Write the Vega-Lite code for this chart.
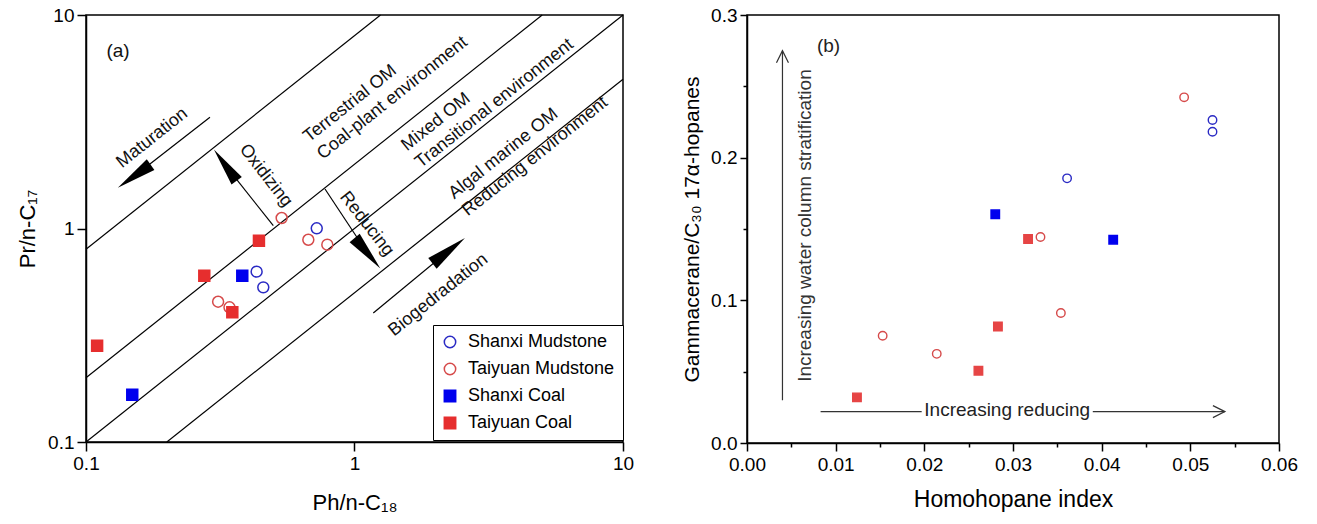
{
  "$schema": "https://vega.github.io/schema/vega-lite/v6.json",
  "background": "white",
  "padding": {"left": 15, "top": 5, "right": 0, "bottom": 0},
  "bounds": "flush",
  "spacing": 124,
  "config": {
    "font": "Liberation Sans",
    "view": {"stroke": "#000", "strokeWidth": 1.5},
    "axis": {"grid": false, "domainColor": "#000", "domainWidth": 1.5, "tickColor": "#000", "tickWidth": 1.5, "labelColor": "#000", "titleColor": "#000", "labelFont": "Liberation Sans", "titleFont": "Liberation Sans", "titleFontWeight": "normal", "labelFlush": false, "labelOverlap": false},
    "legend": {"labelFont": "Liberation Sans", "labelFontSize": 18, "labelColor": "#000", "symbolSize": 130, "symbolStrokeWidth": 1.5, "rowPadding": 9, "padding": 8, "strokeColor": "#000", "fillColor": "#fff", "labelOffset": 9},
    "text": {"font": "Liberation Sans", "color": "#111"}
  },
  "resolve": {"scale": {"fill": "independent", "stroke": "independent", "shape": "independent"}},
  "datasets": {
    "a_points": [
      {"series": "Shanxi Mudstone", "x": 0.7234, "y": 1.002},
      {"series": "Shanxi Mudstone", "x": 0.432, "y": 0.628},
      {"series": "Shanxi Mudstone", "x": 0.4574, "y": 0.53},
      {"series": "Taiyuan Mudstone", "x": 0.5355, "y": 1.12},
      {"series": "Taiyuan Mudstone", "x": 0.673, "y": 0.886},
      {"series": "Taiyuan Mudstone", "x": 0.792, "y": 0.84},
      {"series": "Taiyuan Mudstone", "x": 0.3105, "y": 0.454},
      {"series": "Taiyuan Mudstone", "x": 0.3423, "y": 0.4275},
      {"series": "Shanxi Coal", "x": 0.382, "y": 0.601},
      {"series": "Shanxi Coal", "x": 0.1487, "y": 0.1665},
      {"series": "Taiyuan Coal", "x": 0.4407, "y": 0.877},
      {"series": "Taiyuan Coal", "x": 0.2758, "y": 0.601},
      {"series": "Taiyuan Coal", "x": 0.3507, "y": 0.405},
      {"series": "Taiyuan Coal", "x": 0.11, "y": 0.2825}
    ],
    "a_lines": [
      {"x": 0.1, "y": 0.8, "x2": 1.25, "y2": 10},
      {"x": 0.1, "y": 0.2, "x2": 5, "y2": 10},
      {"x": 0.1, "y": 0.1, "x2": 10, "y2": 10},
      {"x": 0.2, "y": 0.1, "x2": 10, "y2": 5}
    ],
    "a_arrows": [
      {"name": "Maturation", "x": 0.2895, "y": 3.318, "x2": 0.1512, "y2": 1.758},
      {"name": "Oxidizing", "x": 0.4984, "y": 1.031, "x2": 0.3302, "y2": 1.98},
      {"name": "Reducing", "x": 0.7765, "y": 1.531, "x2": 1.118, "y2": 0.766},
      {"name": "Biogedradation", "x": 1.175, "y": 0.402, "x2": 2.243, "y2": 0.787}
    ],
    "a_text_diag": [
      {"label": "Maturation", "x": 0.1765, "y": 2.654},
      {"label": "Biogedradation", "x": 2.051, "y": 0.488}
    ],
    "a_text_zone": [
      {"label": "Terrestrial OM", "x": 0.6598, "y": 2.631},
      {"label": "Coal-plant environment", "x": 0.7419, "y": 2.186},
      {"label": "Mixed OM", "x": 1.528, "y": 2.395},
      {"label": "Transitional environment", "x": 1.718, "y": 1.99},
      {"label": "Algal marine OM", "x": 2.288, "y": 1.427},
      {"label": "Reducing environment", "x": 2.573, "y": 1.186}
    ],
    "a_text_perp": [
      {"label": "Oxidizing", "x": 0.467, "y": 1.768},
      {"label": "Reducing", "x": 1.11, "y": 1.05}
    ],
    "a_tag": [{"label": "(a)", "x": 0.1316, "y": 6.78}],
    "b_points": [
      {"series": "Shanxi Mudstone", "x": 0.0525, "y": 0.2264},
      {"series": "Shanxi Mudstone", "x": 0.0525, "y": 0.2182},
      {"series": "Shanxi Mudstone", "x": 0.0361, "y": 0.1855},
      {"series": "Taiyuan Mudstone", "x": 0.0493, "y": 0.2423},
      {"series": "Taiyuan Mudstone", "x": 0.0331, "y": 0.1444},
      {"series": "Taiyuan Mudstone", "x": 0.0153, "y": 0.0752},
      {"series": "Taiyuan Mudstone", "x": 0.0214, "y": 0.0625},
      {"series": "Taiyuan Mudstone", "x": 0.0354, "y": 0.0911},
      {"series": "Shanxi Coal", "x": 0.028, "y": 0.1603},
      {"series": "Shanxi Coal", "x": 0.0413, "y": 0.1425},
      {"series": "Taiyuan Coal", "x": 0.0317, "y": 0.143},
      {"series": "Taiyuan Coal", "x": 0.0124, "y": 0.032},
      {"series": "Taiyuan Coal", "x": 0.0261, "y": 0.0506},
      {"series": "Taiyuan Coal", "x": 0.0283, "y": 0.0817}
    ],
    "b_arrows": [
      {"name": "up", "x": 0.004, "y": 0.03, "x2": 0.004, "y2": 0.275},
      {"name": "right1", "x": 0.0083, "y": 0.022, "x2": 0.0197, "y2": 0.022},
      {"name": "right2", "x": 0.039, "y": 0.022, "x2": 0.0539, "y2": 0.022}
    ],
    "b_heads": [
      {"name": "up", "x": 0.004, "y": 0.275},
      {"name": "right", "x": 0.0539, "y": 0.022}
    ],
    "b_text_v": [{"label": "Increasing water column stratification", "x": 0.0065, "y": 0.1524}],
    "b_text_h": [
      {"label": "Increasing reducing", "x": 0.02935, "y": 0.023},
      {"label": "(b)", "x": 0.0092, "y": 0.2785}
    ]
  },
  "hconcat": [
    {
      "width": 537,
      "height": 427,
      "layer": [
        {
          "data": {"name": "a_lines"},
          "mark": {"type": "rule", "stroke": "#000", "strokeWidth": 1.2},
          "encoding": {
            "x": {"field": "x", "type": "quantitative", "scale": {"type": "log", "domain": [0.1, 10], "nice": false},
              "axis": {"title": "Ph/n-C₁₈", "values": [0.1, 1, 10], "format": "~g", "tickSize": 9, "labelFontSize": 19, "titleFontSize": 22, "labelPadding": 3, "titlePadding": 19}},
            "y": {"field": "y", "type": "quantitative", "scale": {"type": "log", "domain": [0.1, 10], "nice": false},
              "axis": {"title": "Pr/n-C₁₇", "values": [0.1, 1, 10], "format": "~g", "tickSize": 9, "labelFontSize": 19, "titleFontSize": 22, "labelPadding": 3, "titlePadding": 8}},
            "x2": {"field": "x2"},
            "y2": {"field": "y2"}
          }
        },
        {
          "data": {"name": "a_arrows"},
          "mark": {"type": "rule", "stroke": "#000", "strokeWidth": 1.2},
          "encoding": {
            "x": {"field": "x", "type": "quantitative"},
            "y": {"field": "y", "type": "quantitative"},
            "x2": {"field": "x2"},
            "y2": {"field": "y2"}
          }
        },
        {
          "data": {"name": "a_arrows"},
          "transform": [{"filter": "datum.name === 'Maturation'"}],
          "mark": {"type": "point", "shape": "M0,-1L0.33,1L-0.33,1Z", "size": 1600, "filled": true, "fill": "#000", "opacity": 1, "angle": 235},
          "encoding": {"x": {"field": "x2", "type": "quantitative"}, "y": {"field": "y2", "type": "quantitative"}}
        },
        {
          "data": {"name": "a_arrows"},
          "transform": [{"filter": "datum.name === 'Oxidizing'"}],
          "mark": {"type": "point", "shape": "M0,-1L0.33,1L-0.33,1Z", "size": 1500, "filled": true, "fill": "#000", "opacity": 1, "angle": 324},
          "encoding": {"x": {"field": "x2", "type": "quantitative"}, "y": {"field": "y2", "type": "quantitative"}}
        },
        {
          "data": {"name": "a_arrows"},
          "transform": [{"filter": "datum.name === 'Reducing'"}],
          "mark": {"type": "point", "shape": "M0,-1L0.33,1L-0.33,1Z", "size": 1600, "filled": true, "fill": "#000", "opacity": 1, "angle": 140},
          "encoding": {"x": {"field": "x2", "type": "quantitative"}, "y": {"field": "y2", "type": "quantitative"}}
        },
        {
          "data": {"name": "a_arrows"},
          "transform": [{"filter": "datum.name === 'Biogedradation'"}],
          "mark": {"type": "point", "shape": "M0,-1L0.33,1L-0.33,1Z", "size": 1700, "filled": true, "fill": "#000", "opacity": 1, "angle": 52},
          "encoding": {"x": {"field": "x2", "type": "quantitative"}, "y": {"field": "y2", "type": "quantitative"}}
        },
        {
          "data": {"name": "a_text_diag"},
          "mark": {"type": "text", "fontSize": 18, "angle": -38.5, "align": "center", "baseline": "middle"},
          "encoding": {"x": {"field": "x", "type": "quantitative"}, "y": {"field": "y", "type": "quantitative"}, "text": {"field": "label"}}
        },
        {
          "data": {"name": "a_text_zone"},
          "mark": {"type": "text", "fontSize": 18, "angle": -38.5, "align": "left", "baseline": "middle"},
          "encoding": {"x": {"field": "x", "type": "quantitative"}, "y": {"field": "y", "type": "quantitative"}, "text": {"field": "label"}}
        },
        {
          "data": {"name": "a_text_perp"},
          "mark": {"type": "text", "fontSize": 18, "angle": 52, "align": "center", "baseline": "middle"},
          "encoding": {"x": {"field": "x", "type": "quantitative"}, "y": {"field": "y", "type": "quantitative"}, "text": {"field": "label"}}
        },
        {
          "data": {"name": "a_tag"},
          "mark": {"type": "text", "fontSize": 19, "align": "center", "baseline": "middle"},
          "encoding": {"x": {"field": "x", "type": "quantitative"}, "y": {"field": "y", "type": "quantitative"}, "text": {"field": "label"}}
        },
        {
          "data": {"name": "a_points"},
          "mark": {"type": "point", "filled": true, "size": 120, "strokeWidth": 1.5, "opacity": 1},
          "encoding": {
            "x": {"field": "x", "type": "quantitative"},
            "y": {"field": "y", "type": "quantitative"},
            "stroke": {"field": "series", "type": "nominal",
              "scale": {"domain": ["Shanxi Mudstone", "Taiyuan Mudstone", "Shanxi Coal", "Taiyuan Coal"], "range": ["#2a2ac4", "#d64a4a", "#0000ee", "#e62e2e"]},
              "legend": {"title": null, "orient": "none", "legendX": 347, "legendY": 310}},
            "fill": {"field": "series", "type": "nominal",
              "scale": {"domain": ["Shanxi Mudstone", "Taiyuan Mudstone", "Shanxi Coal", "Taiyuan Coal"], "range": ["transparent", "transparent", "#0000ee", "#e62e2e"]},
              "legend": {"title": null, "orient": "none", "legendX": 347, "legendY": 310}},
            "shape": {"field": "series", "type": "nominal",
              "scale": {"domain": ["Shanxi Mudstone", "Taiyuan Mudstone", "Shanxi Coal", "Taiyuan Coal"], "range": ["circle", "circle", "square", "square"]},
              "legend": {"title": null, "orient": "none", "legendX": 347, "legendY": 310}}
          }
        }
      ]
    },
    {
      "width": 532,
      "height": 428,
      "layer": [
        {
          "data": {"name": "b_points"},
          "mark": {"type": "point", "filled": true, "size": 72, "strokeWidth": 1.4, "opacity": 1},
          "encoding": {
            "x": {"field": "x", "type": "quantitative", "scale": {"domain": [0, 0.06], "nice": false, "zero": false},
              "axis": {"title": "Homohopane index",
                "values": [0, 0.005, 0.01, 0.015, 0.02, 0.025, 0.03, 0.035, 0.04, 0.045, 0.05, 0.055, 0.06],
                "labelExpr": "abs(datum.value*100 - round(datum.value*100)) < 0.001 ? format(datum.value, '.2f') : ''",
                "tickSize": {"condition": {"test": "abs(datum.value*100 - round(datum.value*100)) < 0.001", "value": 8}, "value": 4},
                "labelFontSize": 19, "titleFontSize": 23, "labelPadding": 4, "titlePadding": 14}},
            "y": {"field": "y", "type": "quantitative", "scale": {"domain": [0, 0.3], "nice": false, "zero": false},
              "axis": {"title": "Gammacerane/C₃₀ 17α-hopanes",
                "values": [0, 0.05, 0.1, 0.15, 0.2, 0.25, 0.3],
                "labelExpr": "abs(datum.value*10 - round(datum.value*10)) < 0.001 ? format(datum.value, '.1f') : ''",
                "tickSize": {"condition": {"test": "abs(datum.value*10 - round(datum.value*10)) < 0.001", "value": 7}, "value": 4},
                "labelFontSize": 19, "titleFontSize": 21, "labelPadding": 3, "titlePadding": 8}},
            "stroke": {"field": "series", "type": "nominal",
              "scale": {"domain": ["Shanxi Mudstone", "Taiyuan Mudstone", "Shanxi Coal", "Taiyuan Coal"], "range": ["#2a2ac4", "#d64a4a", "#0000ee", "#e64545"]},
              "legend": null},
            "fill": {"field": "series", "type": "nominal",
              "scale": {"domain": ["Shanxi Mudstone", "Taiyuan Mudstone", "Shanxi Coal", "Taiyuan Coal"], "range": ["transparent", "transparent", "#0000ee", "#e64545"]},
              "legend": null},
            "shape": {"field": "series", "type": "nominal",
              "scale": {"domain": ["Shanxi Mudstone", "Taiyuan Mudstone", "Shanxi Coal", "Taiyuan Coal"], "range": ["circle", "circle", "square", "square"]},
              "legend": null}
          }
        },
        {
          "data": {"name": "b_arrows"},
          "mark": {"type": "rule", "stroke": "#333", "strokeWidth": 1.2},
          "encoding": {
            "x": {"field": "x", "type": "quantitative"},
            "y": {"field": "y", "type": "quantitative"},
            "x2": {"field": "x2"},
            "y2": {"field": "y2"}
          }
        },
        {
          "data": {"name": "b_heads"},
          "transform": [{"filter": "datum.name === 'up'"}],
          "mark": {"type": "point", "shape": "M-0.5,1L0,0L0.5,1", "size": 576, "filled": false, "stroke": "#333", "strokeWidth": 1.2, "opacity": 1, "angle": 0},
          "encoding": {"x": {"field": "x", "type": "quantitative"}, "y": {"field": "y", "type": "quantitative"}}
        },
        {
          "data": {"name": "b_heads"},
          "transform": [{"filter": "datum.name === 'right'"}],
          "mark": {"type": "point", "shape": "M-0.5,1L0,0L0.5,1", "size": 576, "filled": false, "stroke": "#333", "strokeWidth": 1.2, "opacity": 1, "angle": 90},
          "encoding": {"x": {"field": "x", "type": "quantitative"}, "y": {"field": "y", "type": "quantitative"}}
        },
        {
          "data": {"name": "b_text_v"},
          "mark": {"type": "text", "fontSize": 19, "angle": 270, "align": "center", "baseline": "middle", "color": "#333"},
          "encoding": {"x": {"field": "x", "type": "quantitative"}, "y": {"field": "y", "type": "quantitative"}, "text": {"field": "label"}}
        },
        {
          "data": {"name": "b_text_h"},
          "mark": {"type": "text", "fontSize": 19, "align": "center", "baseline": "middle", "color": "#222"},
          "encoding": {"x": {"field": "x", "type": "quantitative"}, "y": {"field": "y", "type": "quantitative"}, "text": {"field": "label"}}
        }
      ]
    }
  ]
}
